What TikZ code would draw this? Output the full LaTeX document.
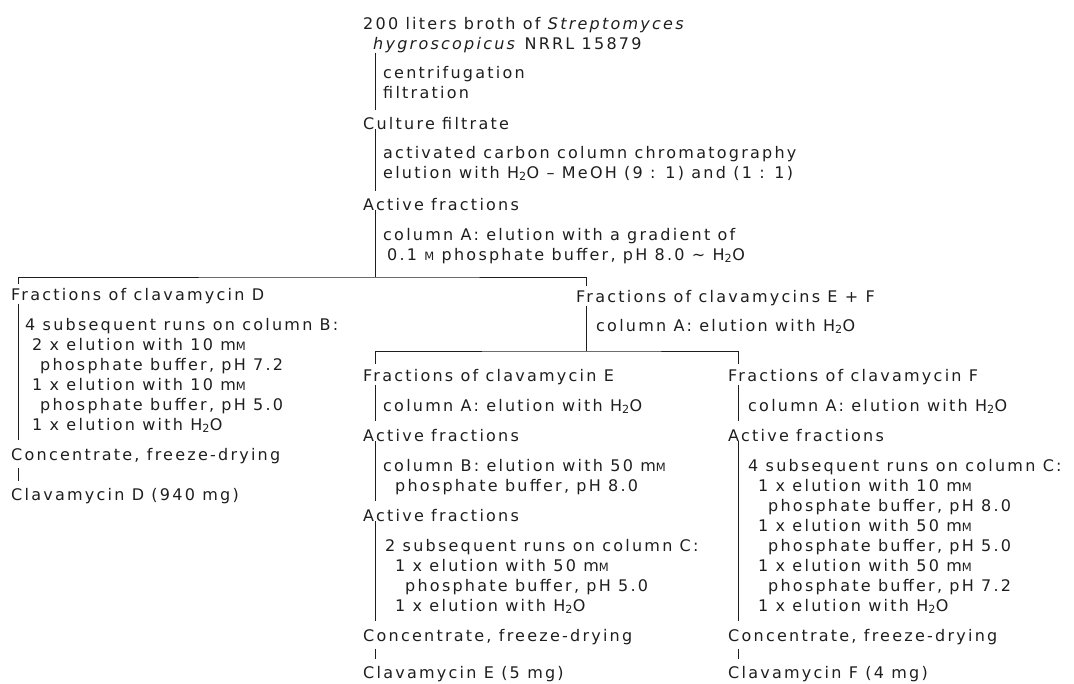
\documentclass[tikz,border=0pt]{standalone}
\usepackage{fontspec}
\setmainfont[LetterSpace=14]{DejaVu Sans}
\definecolor{ink}{RGB}{30,30,30}
\newcommand{\scm}{{\fontsize{11.5}{11.5}\selectfont M}}
\newcommand{\water}{H\textsubscript{2}O}

\begin{document}
\begin{tikzpicture}[x=1pt, y=-1pt,
    hdr/.style={anchor=base west, inner sep=0pt, align=left,
                font=\fontsize{16}{20}\selectfont, text=ink},
    sub/.style={hdr},
    bar/.style={draw=ink, line width=0.9pt}
  ]
  \useasboundingbox (0,0) rectangle (1074,683);

  % columns of the bars
  \coordinate (colT)   at (375,0);
  \coordinate (colD)   at (18,0);
  \coordinate (colEF)  at (586,0);
  \coordinate (colF)   at (738,0);
  \coordinate (splitA) at (375,277);
  \coordinate (splitB) at (586,351);

  % main line (multi-line nodes sit on their last baseline)
  \node[hdr] (src)  at (363,49)  {200 liters broth of \textit{Streptomyces}\\
                                  \hspace*{10pt}\textit{hygroscopicus} NRRL 15879};
  \node[sub] (stp1) at (383,98)  {centrifugation\\filtration};
  \node[hdr] (cult) at (363,129) {Culture filtrate};
  \node[sub] (stp2) at (383,178) {activated carbon column chromatography\\
                                  elution with \water{} – MeOH (9 : 1) and (1 : 1)};
  \node[hdr] (act0) at (363,210) {Active fractions};
  \node[sub] (stp3) at (383,260) {column A: elution with a gradient of\\
                                  \hspace*{4pt}0.1 \scm{} phosphate buffer, pH 8.0 \textasciitilde{} \water};

  % clavamycin D
  \node[hdr] (fracD) at (11,300) {Fractions of clavamycin D};
  \node[sub] (stpD)  at (25,430) {4 subsequent runs on column B:\\
                                  \hspace*{7pt}2 x elution with 10 m\scm\\
                                  \hspace*{15pt}phosphate buffer, pH 7.2\\
                                  \hspace*{7pt}1 x elution with 10 m\scm\\
                                  \hspace*{15pt}phosphate buffer, pH 5.0\\
                                  \hspace*{7pt}1 x elution with \water};
  \node[hdr] (concD) at (11,460) {Concentrate, freeze-drying};
  \node[hdr] (clavD) at (11,500) {Clavamycin D (940 mg)};

  % clavamycins E + F
  \node[hdr] (fracEF) at (576,302) {Fractions of clavamycins E + F};
  \node[sub] (stpEF)  at (596,331) {column A: elution with \water};

  % clavamycin E
  \node[hdr] (fracE) at (363,381) {Fractions of clavamycin E};
  \node[sub] (stpE1) at (383,411) {column A: elution with \water};
  \node[hdr] (actE1) at (363,441) {Active fractions};
  \node[sub] (stpE2) at (383,491) {column B: elution with 50 m\scm\\
                                   \hspace*{12pt}phosphate buffer, pH 8.0};
  \node[hdr] (actE2) at (363,521) {Active fractions};
  \node[sub] (stpE3) at (385,611) {2 subsequent runs on column C:\\
                                   \hspace*{10pt}1 x elution with 50 m\scm\\
                                   \hspace*{20pt}phosphate buffer, pH 5.0\\
                                   \hspace*{10pt}1 x elution with \water};
  \node[hdr] (concE) at (363,641) {Concentrate, freeze-drying};
  \node[hdr] (clavE) at (363,678) {Clavamycin E (5 mg)};

  % clavamycin F
  \node[hdr] (fracF) at (728,381) {Fractions of clavamycin F};
  \node[sub] (stpF1) at (748,411) {column A: elution with \water};
  \node[hdr] (actF1) at (728,441) {Active fractions};
  \node[sub] (stpF2) at (748,611) {4 subsequent runs on column C:\\
                                   \hspace*{10pt}1 x elution with 10 m\scm\\
                                   \hspace*{20pt}phosphate buffer, pH 8.0\\
                                   \hspace*{10pt}1 x elution with 50 m\scm\\
                                   \hspace*{20pt}phosphate buffer, pH 5.0\\
                                   \hspace*{10pt}1 x elution with 50 m\scm\\
                                   \hspace*{20pt}phosphate buffer, pH 7.2\\
                                   \hspace*{10pt}1 x elution with \water};
  \node[hdr] (concF) at (728,641) {Concentrate, freeze-drying};
  \node[hdr] (clavF) at (728,678) {Clavamycin F (4 mg)};

  % bars
  \draw[bar, shorten >=7pt] (src.south -| colT)  -- (cult.north -| colT);
  \draw[bar, shorten >=7pt] (cult.south -| colT) -- (act0.north -| colT);
  \draw[bar] (act0.south -| colT) -- (splitA);
  \draw[bar, shorten <=4pt, shorten >=4pt] (fracD.north -| colD) |- (splitA) -| (fracEF.north -| colEF);

  \draw[bar, shorten >=8pt] (fracD.south -| colD) -- (concD.north -| colD);
  \draw[bar, shorten <=4pt, shorten >=7pt] (concD.south -| colD) -- (clavD.north -| colD);

  \draw[bar] (fracEF.south -| colEF) -- (splitB);
  \draw[bar, shorten <=5pt, shorten >=5pt] (fracE.north -| colT) |- (splitB) -| (fracF.north -| colF);

  \draw[bar, shorten >=8pt] (fracE.south -| colT)  -- (actE1.north -| colT);
  \draw[bar, shorten >=8pt] (actE1.south -| colT)  -- (actE2.north -| colT);
  \draw[bar, shorten >=8pt] (actE2.south -| colT)  -- (concE.north -| colT);
  \draw[bar, shorten <=4pt, shorten >=7pt] (concE.south -| colT) -- (clavE.north -| colT);

  \draw[bar, shorten >=8pt] (fracF.south -| colF)  -- (actF1.north -| colF);
  \draw[bar, shorten >=8pt] (actF1.south -| colF)  -- (concF.north -| colF);
  \draw[bar, shorten <=4pt, shorten >=7pt] (concF.south -| colF) -- (clavF.north -| colF);
\end{tikzpicture}
\end{document}
